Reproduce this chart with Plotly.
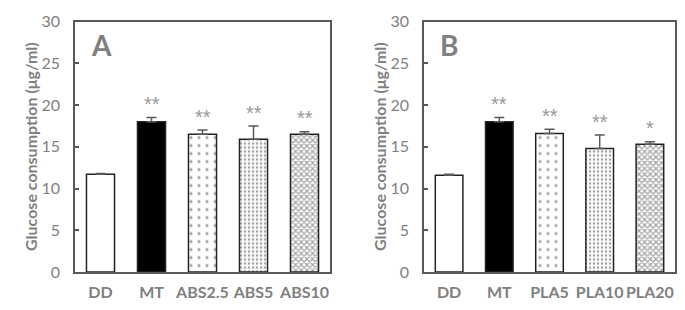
import plotly.graph_objects as go

cats_a = ["DD", "MT", "ABS2.5", "ABS5", "ABS10"]
vals_a = [11.7, 18.0, 16.5, 15.9, 16.5]
errs_a = [0.1, 0.5, 0.5, 1.6, 0.3]
stars_a = ["", "**", "**", "**", "**"]

cats_b = ["DD", "MT", "PLA5", "PLA10", "PLA20"]
vals_b = [11.6, 18.0, 16.6, 14.8, 15.3]
errs_b = [0.1, 0.5, 0.5, 1.6, 0.3]
stars_b = ["", "**", "**", "**", "*"]

y_ticks = [0, 5, 10, 15, 20, 25, 30]

GRAY = "#808080"
LINE = "#595959"
FONT = "Lato"

# pattern styles per bar position
fills = ["white", "black", "white", "white", "white"]
pshapes = ["", "", ".", ".", "x"]
psizes = [8, 8, 8, 4, 4]
psolid = [0.2, 0.2, 0.12, 0.3, 0.5]
pfg = ["#444", "#444", "#444", "#888", "#444"]

fig = go.Figure()

def add_panel(cats, vals, errs, stars, xa, ya):
    fig.add_trace(go.Bar(
        x=cats, y=vals, xaxis=xa, yaxis=ya, width=0.55,
        marker=dict(color=fills, line=dict(color="#222", width=1.5),
                    pattern=dict(shape=pshapes, size=psizes, solidity=psolid,
                                 fgcolor=pfg, bgcolor="white", fillmode="overlay")),
        error_y=dict(type="data", symmetric=False, array=errs,
                     arrayminus=[0] * len(errs), color=LINE, thickness=1.5, width=5),
        showlegend=False, hoverinfo="skip",
    ))
    ref = "" if xa == "x" else "2"
    for c, v, e, s in zip(cats, vals, errs, stars):
        if s:
            fig.add_annotation(x=c, y=v + e + 1.6, text=s, showarrow=False,
                               xref="x" + ref, yref="y" + ref,
                               font=dict(family="Liberation Sans", size=20, color="#999999"),
                               xanchor="center", yanchor="middle")

add_panel(cats_a, vals_a, errs_a, stars_a, "x", "y")
add_panel(cats_b, vals_b, errs_b, stars_b, "x2", "y2")

ydom = [1 - 272 / 310, 1 - 21.5 / 310]
axis_common = dict(showline=True, linecolor=LINE, linewidth=1.5, mirror=True,
                   showgrid=False, zeroline=False, automargin=False)
xcommon = dict(axis_common, ticks="", ticklabelstandoff=5,
               tickfont=dict(family=FONT, size=16, color=GRAY, weight="bold"))
ycommon = dict(axis_common, range=[0, 30], tickvals=y_ticks, ticks="inside", ticklen=4,
               tickcolor=LINE, tickwidth=1.5, ticklabelstandoff=10,
               tickfont=dict(family=FONT, size=16, color=GRAY))

fig.update_layout(
    width=685, height=310,
    margin=dict(l=0, r=0, t=0, b=0),
    paper_bgcolor="white", plot_bgcolor="white",
    bargap=0.45,
    xaxis=dict(xcommon, domain=[75 / 685, 330 / 685], anchor="y"),
    yaxis=dict(ycommon, domain=ydom, anchor="x"),
    xaxis2=dict(xcommon, domain=[424 / 685, 675 / 685], anchor="y2"),
    yaxis2=dict(ycommon, domain=ydom, anchor="x2"),
)

for xpix in [31, 380]:
    fig.add_annotation(x=xpix / 685, y=1 - 147 / 310, xref="paper", yref="paper",
                       text="Glucose consumption (μg/ml)", textangle=-90, showarrow=False,
                       xanchor="center", yanchor="middle",
                       font=dict(family=FONT, size=16, color=GRAY, weight="bold"))

for xpix, letter in [(101, "A"), (449, "B")]:
    fig.add_annotation(x=xpix / 685, y=1 - 45 / 310, xref="paper", yref="paper",
                       text=letter, showarrow=False, xanchor="center", yanchor="middle",
                       font=dict(family=FONT, size=28, color=GRAY, weight="bold"))

fig.write_html("out.html", config={"displayModeBar": False})

with open("out.html", encoding="utf-8") as f:
    html = f.read()
html = html.replace("<head>", "<head><style>html,body{margin:0;padding:0;overflow:hidden;}</style>", 1)
with open("out.html", "w", encoding="utf-8") as f:
    f.write(html)
